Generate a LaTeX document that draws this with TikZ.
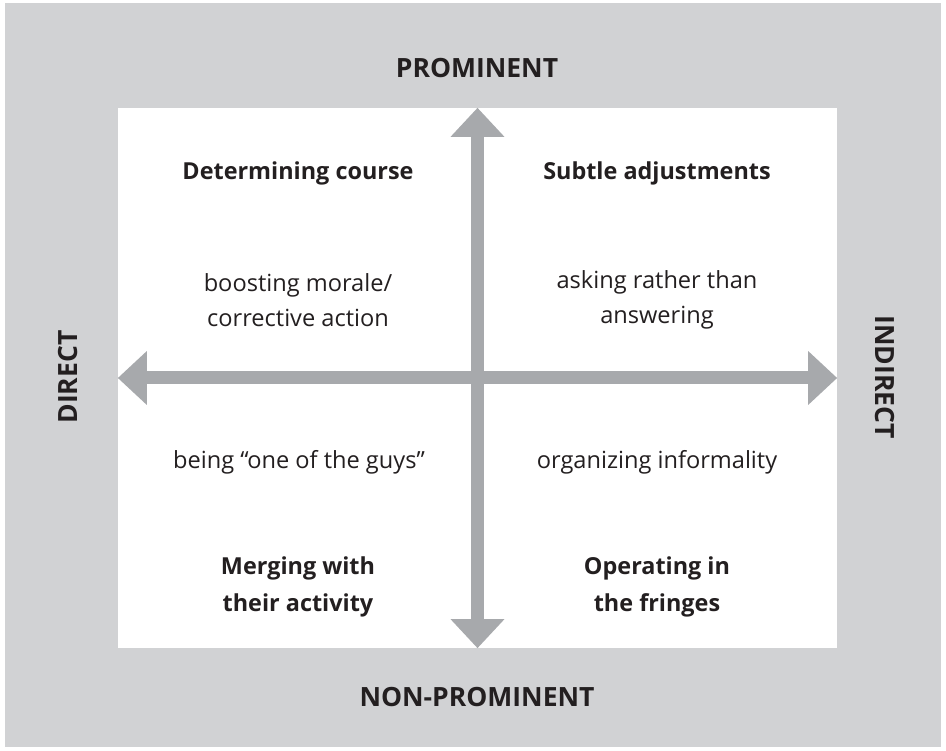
\documentclass[tikz,border=0pt]{standalone}
\usepackage{fontspec}
\setmainfont{Open Sans}
\usetikzlibrary{arrows.meta,positioning}

\definecolor{framegray}{HTML}{D1D2D4}
\definecolor{axisgray}{HTML}{A7A9AC}
\definecolor{inkgray}{HTML}{231F20}

\begin{document}
\begin{tikzpicture}[
        x=1pt, y=-1pt,
        axis/.style={
            draw=axisgray, line width=13pt,
            {Triangle[length=29pt, width=52pt]}-{Triangle[length=29pt, width=52pt]},
        },
        axislabel/.style={
            font=\fontsize{26.5}{30}\selectfont\bfseries, text=inkgray,
        },
        heading/.style={
            font=\fontsize{23.4}{37}\selectfont\bfseries, text=inkgray,
            align=center,
        },
        remark/.style={
            font=\fontsize{23.6}{35}\selectfont, text=inkgray,
            align=center,
        },
    ]
        \useasboundingbox (0,0) rectangle (946,751);
        \fill[framegray] (5,3) rectangle (941,747);

        % white field with the two axes through it
        \node[fill=white, minimum width=719pt, minimum height=540pt,
            inner sep=0pt] (field) at (477.5,378) {};
        \draw[axis] (field.west) -- (field.east);
        \draw[axis] (field.north) -- (field.south);

        % axis labels
        \node[axislabel] (prom) at (477,68) {PROMINENT};
        \node[axislabel] (nonprom) at (477,697) {NON-PROMINENT};
        \node[axislabel, rotate=90] (direct) at (68,377) {DIRECT};
        \node[axislabel, rotate=-90] (indirect) at (885,377) {INDIRECT};

        % quadrants
        \node[heading] (course) at (298,173) {Determining course};
        \node[heading] (subtle) at (657,173) {Subtle adjustments};
        \node[remark] (morale) at (298,300) {boosting morale/\\corrective action};
        \node[remark] (asking) at (657,300) {asking rather than\\answering};
        \node[remark] (guys) at (299,462) {being “one of the guys”};
        \node[remark] (informal) at (657,462) {organizing informality};
        \node[heading] (merging) at (298,587) {Merging with\\their activity};
        \node[heading] (fringes) at (657,587) {Operating in\\the fringes};
\end{tikzpicture}
\end{document}
